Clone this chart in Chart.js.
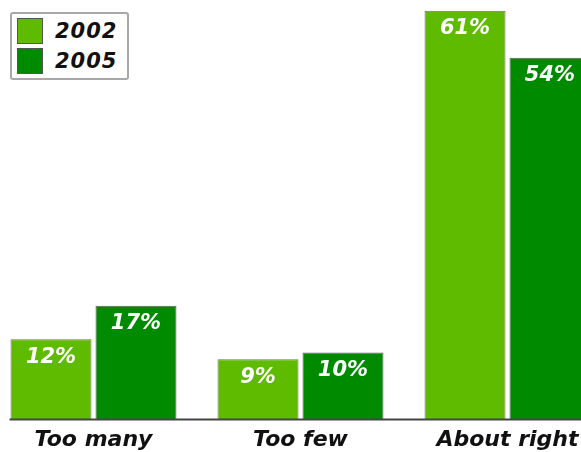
<!DOCTYPE html>
<html>
<head>
<meta charset="utf-8">
<script src="https://cdn.jsdelivr.net/npm/chart.js@4/dist/chart.umd.min.js"></script>
<style>
  html, body { margin: 0; padding: 0; background: #fff; overflow: hidden; width: 581px; height: 452px; }
  #wrap { position: absolute; left: -10px; top: 0; width: 621px; height: 460px; }
  #legend {
    position: absolute; left: 10px; top: 12px; width: 115px; height: 64px;
    border: 2px solid #a8a8a8; border-radius: 3px; background: #fff;
    font: italic bold 21px "DejaVu Sans", sans-serif; color: #111; letter-spacing: 1px;
  }
  #legend .row { position: absolute; left: 5px; height: 26px; line-height: 26px; }
  #legend .sw { position: absolute; left: 0; top: 0; width: 24px; height: 24px; border: 1px solid #555; }
  #legend .tx { position: absolute; left: 38px; top: 0; white-space: nowrap; }
</style>
</head>
<body>
<div id="wrap"><canvas id="c" width="621" height="460"></canvas></div>
<div id="legend"></div>
<script>
// Survey answers and their shares (percent)
const categories = ['Too many', 'Too few', 'About right'];
const values2002 = [12, 9, 61];
const values2005 = [17, 10, 54];
const seriesNames = ['2002', '2005'];
const seriesColors = ['#5fbb00', '#008a00'];

// White percentage labels just inside the top of each bar
const barValueLabels = {
  id: 'barValueLabels',
  afterDatasetsDraw(chart) {
    const ctx = chart.ctx;
    ctx.save();
    ctx.font = 'italic bold 21px "DejaVu Sans", sans-serif';
    ctx.fillStyle = '#ffffff';
    ctx.textAlign = 'center';
    ctx.textBaseline = 'middle';
    chart.data.datasets.forEach((ds, i) => {
      chart.getDatasetMeta(i).data.forEach((bar, j) => {
        ctx.fillText(ds.data[j] + '%', bar.x, bar.y + 18);
      });
    });
    ctx.restore();
  }
};

// Dark baseline running from the first bar to the right edge
const baseline = {
  id: 'baseline',
  afterDatasetsDraw(chart) {
    const ctx = chart.ctx;
    const first = chart.getDatasetMeta(0).data[0];
    const y = chart.scales.y.getPixelForValue(0);
    ctx.save();
    ctx.strokeStyle = '#444';
    ctx.lineWidth = 2;
    ctx.beginPath();
    ctx.moveTo(first.x - first.width / 2 - 1, y);
    ctx.lineTo(chart.width, y);
    ctx.stroke();
    ctx.restore();
  }
};

const chart = new Chart(document.getElementById('c'), {
  type: 'bar',
  data: {
    labels: categories,
    datasets: [
      { label: seriesNames[0], data: values2002, backgroundColor: seriesColors[0],
        borderColor: '#6f6f6f', borderWidth: 1, borderSkipped: 'bottom' },
      { label: seriesNames[1], data: values2005, backgroundColor: seriesColors[1],
        borderColor: '#5f5f5f', borderWidth: 1, borderSkipped: 'bottom' }
    ]
  },
  options: {
    responsive: false,
    animation: false,
    layout: { padding: { top: 0, left: 0, right: 0, bottom: 0 } },
    datasets: { bar: { categoryPercentage: 0.821, barPercentage: 0.953 } },
    plugins: { legend: { display: false }, tooltip: { enabled: false } },
    scales: {
      x: {
        grid: { display: false, drawTicks: false },
        border: { display: false },
        ticks: {
          color: '#111',
          padding: 7,
          font: { family: '"DejaVu Sans", sans-serif', size: 22, weight: 'bold', style: 'italic' }
        }
      },
      y: { display: false, min: 0, max: 62.6 }
    }
  },
  plugins: [barValueLabels, baseline]
});

// Legend box built from the dataset names and colours
const legend = document.getElementById('legend');
chart.data.datasets.forEach((ds, i) => {
  const row = document.createElement('div');
  row.className = 'row';
  row.style.top = (4 + i * 30) + 'px';
  row.innerHTML = '<span class="sw" style="background:' + ds.backgroundColor + '"></span><span class="tx">' + ds.label + '</span>';
  legend.appendChild(row);
});
</script>
</body>
</html>
